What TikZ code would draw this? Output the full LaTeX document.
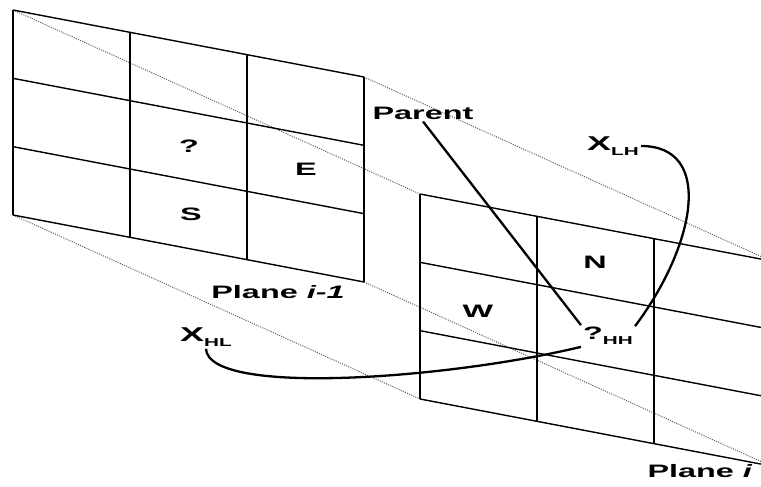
\documentclass[tikz,border=0pt]{standalone}
\usepackage{fontspec}
\newfontfamily\planefont[FakeStretch=1.8]{Liberation Sans}
\usetikzlibrary{arrows.meta,positioning,calc}
\newcommand{\lowsub}[1]{\raisebox{-0.5ex}{\fontsize{11.5}{12}\selectfont #1}}

\begin{document}
\begin{tikzpicture}[x=1pt, y=-1pt]
  \tikzstyle{grid}=[line width=1.4pt]
  \tikzstyle{ray}=[black!65, dash pattern=on 1pt off 1.3pt, line width=1pt]
  \tikzstyle{lab}=[font=\planefont\bfseries\fontsize{18}{20}\selectfont, inner sep=2pt]
  \tikzstyle{link}=[line width=2.3pt]
  \useasboundingbox (0,0) rectangle (761,487);
  \clip (0,0) rectangle (761,487);
  \coordinate (atl) at (13,10);   \coordinate (btl) at (420,194);
  \coordinate (atr) at (364,77);  \coordinate (btr) at (771,261);
  \coordinate (abl) at (13,215);  \coordinate (bbl) at (420,399);
  \coordinate (abr) at (364,282); \coordinate (bbr) at (771,466);
  \draw[ray] (atl) -- (btl);
  \draw[ray] (atr) -- (btr);
  \draw[ray] (abl) -- (bbl);
  \draw[ray] (abr) -- (bbr);
  \foreach \dx/\dy in {0/0, 407/184}{
    \begin{scope}[shift={(\dx,\dy)}]
      \foreach \k in {0,...,3}{
        \draw[grid] (13,10+68.33*\k) -- ++(351,67);
        \draw[grid] (13+117*\k,10+22.33*\k) -- ++(0,205);
      }
    \end{scope}
  }
  \node[lab] (qa) at (189,146) {?};
  \node[lab] (ea) at (306,169) {E};
  \node[lab] (sa) at (191,214) {S};
  \node[lab] (wb) at (478,311) {W};
  \node[lab] (nb) at (595,262) {N};
  \node[lab] (qhh) at (608,336) {?\lowsub{HH}};
  \node[lab] (parent) at (423,113) {Parent};
  \node[lab, font=\planefont\bfseries\fontsize{20}{22}\selectfont] (xlh) at (613,146) {X\lowsub{LH}};
  \node[lab, font=\planefont\bfseries\fontsize{20}{22}\selectfont] (xhl) at (206,337) {X\lowsub{HL}};
  \node[lab] (pla) at (278,292) {Plane \textit{i-1}};
  \node[lab] (plb) at (700,471) {Plane \textit{i}};
  \draw[link] (parent.south) -- (qhh.north west);
  \draw[link] (xlh.east) .. controls +(74,0) and +(60,-80) .. (qhh.20);
  \draw[link] (xhl.south) .. controls +(2,48) and +(-133,32) .. (qhh.south west);
\end{tikzpicture}
\end{document}
